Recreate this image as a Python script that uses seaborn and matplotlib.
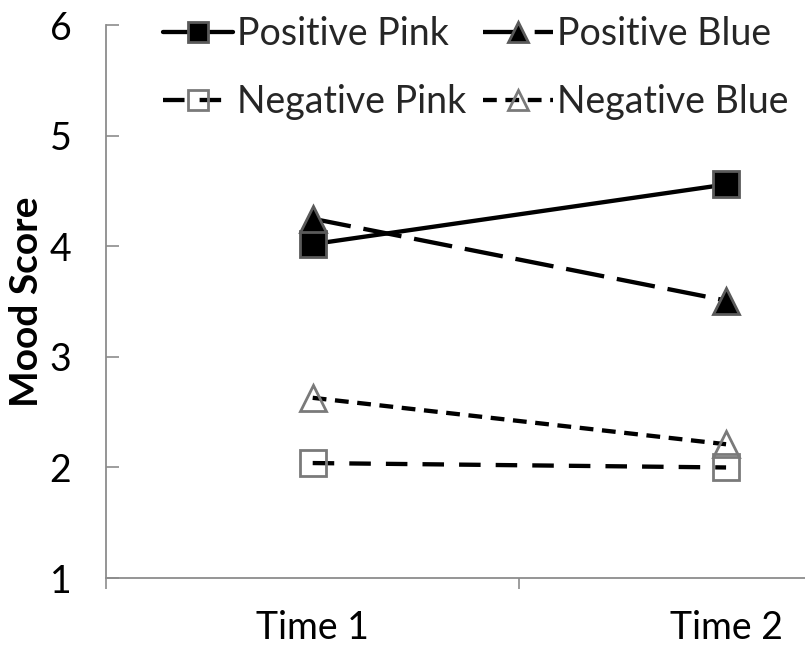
import numpy as np
import pandas as pd
import matplotlib
matplotlib.use("Agg")
import matplotlib.pyplot as plt
import seaborn as sns

times = ["Time 1", "Time 2"]
series = ["Positive Pink", "Positive Blue", "Negative Pink", "Negative Blue"]
pos_pink = [4.02, 4.56]
pos_blue = [4.25, 3.51]
neg_pink = [2.04, 2.00]
neg_blue = [2.63, 2.21]
y_ticks = [1, 2, 3, 4, 5, 6]

sns.set_theme(style="white")
plt.rcParams['font.family'] = ['Lato', 'DejaVu Sans']

df = pd.DataFrame({
    "time": times * 4,
    "score": pos_pink + pos_blue + neg_pink + neg_blue,
    "group": np.repeat(series, 2),
})

# line / marker look for each group
looks = {
    "Positive Pink": dict(marker="s", linestyle="-", markerfacecolor="black"),
    "Positive Blue": dict(marker="^", linestyle=(0, (9, 3)), markerfacecolor="black"),
    "Negative Pink": dict(marker="s", linestyle=(0, (5, 3.5)), markerfacecolor="none"),
    "Negative Blue": dict(marker="^", linestyle=(0, (3.2, 2)), markerfacecolor="none"),
}

fig = plt.figure(figsize=(8.05, 6.48), dpi=100)
ax = fig.add_axes([0.1317, 0.108, 1.027, 0.853])

for g in series:
    d = df[df.group == g]
    st = looks[g]
    edge = "#5a5a5a" if st["markerfacecolor"] == "black" else "#7a7a7a"
    sns.lineplot(data=d, x="time", y="score", ax=ax, color="black", lw=3.1,
                 marker=st["marker"], linestyle=st["linestyle"],
                 markerfacecolor=st["markerfacecolor"], markeredgecolor=edge,
                 markeredgewidth=2, markersize=19, label=g, sort=False)

ax.set_xlim(-0.5, 1.5)
ax.set_ylim(1, 6)
ax.set_yticks(y_ticks)
ax.set_yticklabels([str(t) for t in y_ticks])
ax.set_xticks([-0.5, 0.5, 1.5])
ax.set_xticklabels([])
ax.set_xticks([0, 1], minor=True)
ax.set_xticklabels(times, minor=True)

for s in ["top", "right"]:
    ax.spines[s].set_visible(False)
for s in ["left", "bottom"]:
    ax.spines[s].set_color("#8c8c8c")
    ax.spines[s].set_linewidth(1.3)

ax.tick_params(axis="y", direction="in", length=9, width=1.2, color="#8c8c8c",
               labelsize=27, pad=25, left=True, labelcolor="black")
ax.tick_params(axis="x", which="major", direction="out", length=8, width=1.2,
               color="#8c8c8c", bottom=True)
ax.tick_params(axis="x", which="minor", length=0, labelsize=27, pad=23,
               labelcolor="black")

ax.set_xlabel("")
ax.set_ylabel("Mood Score", fontsize=28, fontweight="bold", color="black")
ax.yaxis.set_label_coords(-0.075, 0.5)

# legend reads row by row: Positive Pink, Positive Blue / Negative Pink, Negative Blue
handles, labels = ax.get_legend_handles_labels()
order = [0, 2, 1, 3]
leg = ax.legend([handles[i] for i in order], [labels[i] for i in order],
                loc="upper left", bbox_to_anchor=(0.203, 0.975),
                bbox_transform=fig.transFigure, ncol=2, frameon=False,
                fontsize=27, handlelength=1.85, handletextpad=0.12,
                columnspacing=0.45, labelspacing=0.85, borderpad=0,
                borderaxespad=0)
for h in leg.legend_handles:
    h.set_markersize(14)

fig.savefig("out.png", dpi=100)
